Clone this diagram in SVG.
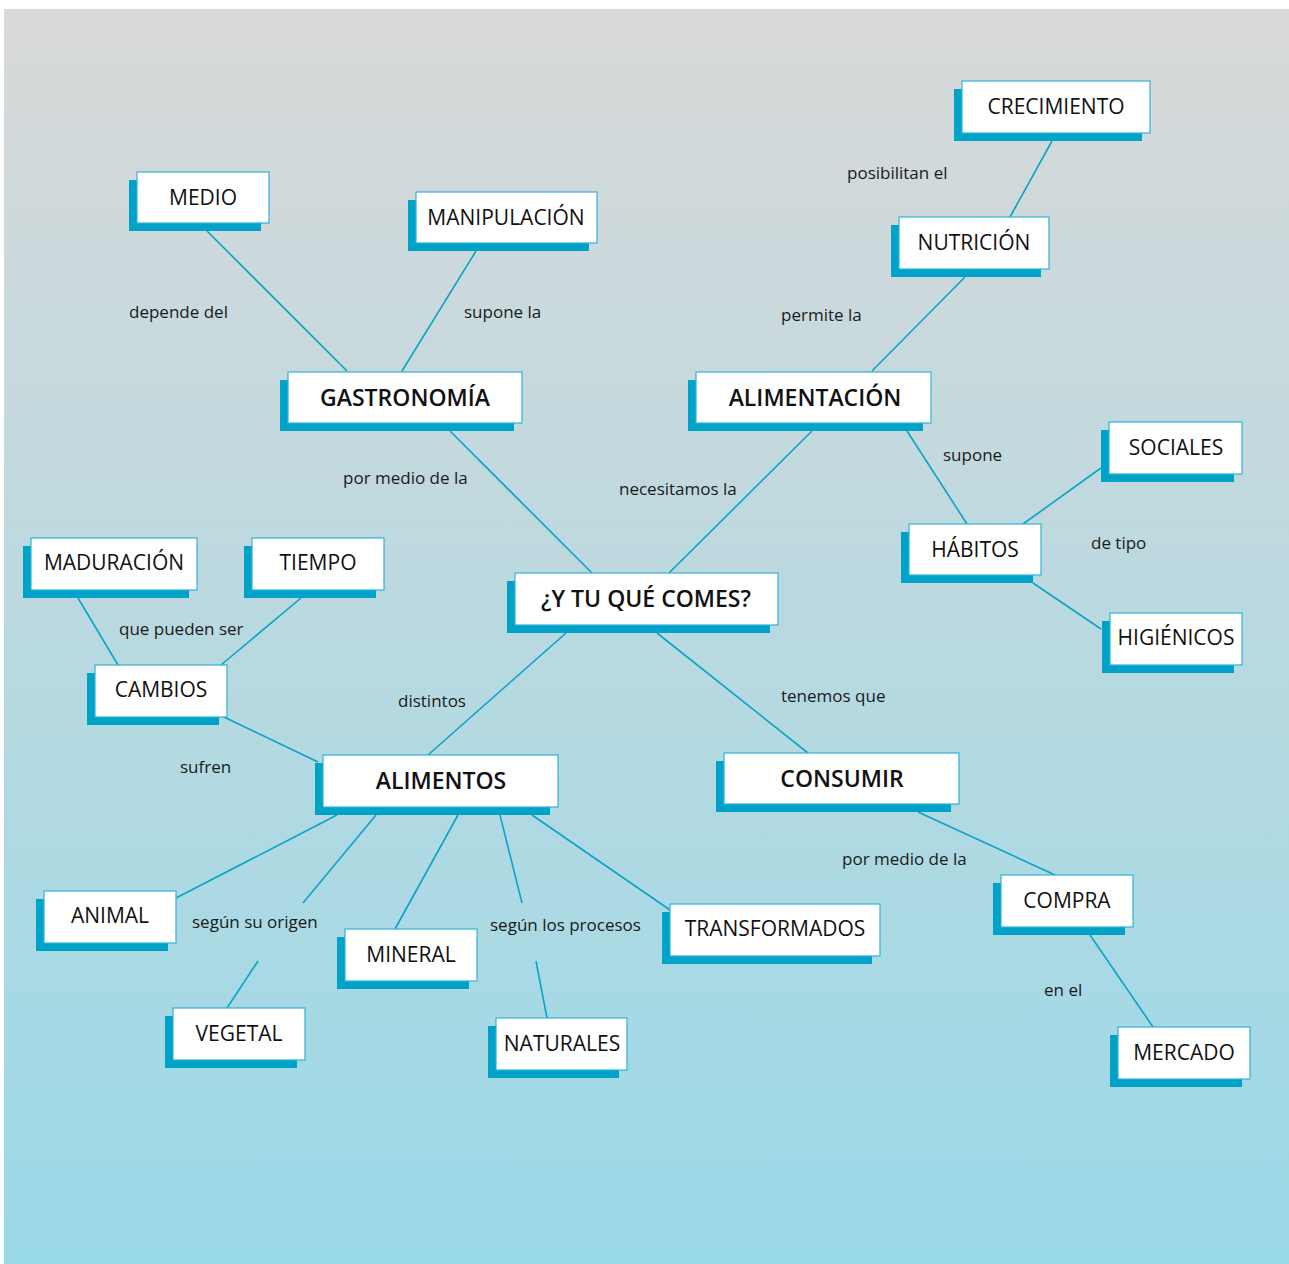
<svg xmlns="http://www.w3.org/2000/svg" width="1289" height="1264" viewBox="0 0 1289 1264">
  <defs>
    <linearGradient id="bg" x1="0" y1="0" x2="0" y2="1">
      <stop offset="0" stop-color="#d9d9d9"/>
      <stop offset="0.5" stop-color="#b9d9e0"/>
      <stop offset="1" stop-color="#9ad9e8"/>
    </linearGradient>
    <style>
      .shadow { fill: #00a2c8; }
      .box { fill: #ffffff; stroke: #2fb3d6; stroke-width: 1.2; }
      .t { font-family: "Open Sans", "Noto Sans", "Liberation Sans", sans-serif; font-size: 21px; fill: #111; text-anchor: middle; dominant-baseline: central; }
      .tb { font-family: "Open Sans", "Noto Sans", "Liberation Sans", sans-serif; font-size: 23px; font-weight: 600; fill: #111; text-anchor: middle; dominant-baseline: central; }
      .lbl { font-family: "Open Sans", "Noto Sans", "Liberation Sans", sans-serif; font-size: 17px; fill: #1a1a1a; }
      .edge { stroke: #0aa3c8; stroke-width: 1.6; fill: none; }
    </style>
  </defs>

  <rect x="4" y="9" width="1285" height="1255" fill="url(#bg)"/>

  <!-- connectors -->
  <g id="connectors">
    <line class="edge" x1="207" y1="231" x2="347" y2="371"/>
    <line class="edge" x1="476" y1="251" x2="402" y2="371"/>
    <line class="edge" x1="450" y1="431" x2="592" y2="573"/>
    <line class="edge" x1="812" y1="431" x2="669" y2="573"/>
    <line class="edge" x1="965" y1="277" x2="872" y2="371"/>
    <line class="edge" x1="1052" y1="141" x2="1010" y2="217"/>
    <line class="edge" x1="907" y1="431" x2="967" y2="524"/>
    <line class="edge" x1="1023" y1="524" x2="1101" y2="468"/>
    <line class="edge" x1="1033" y1="583" x2="1101" y2="629"/>
    <line class="edge" x1="566" y1="633" x2="428" y2="755"/>
    <line class="edge" x1="657" y1="633" x2="808" y2="753"/>
    <line class="edge" x1="78" y1="598" x2="118" y2="665"/>
    <line class="edge" x1="301" y1="598" x2="221" y2="665"/>
    <line class="edge" x1="224" y1="717" x2="318" y2="762"/>
    <line class="edge" x1="337" y1="815" x2="176" y2="898"/>
    <line class="edge" x1="376" y1="815" x2="303" y2="903"/>
    <line class="edge" x1="258" y1="961" x2="227" y2="1008"/>
    <line class="edge" x1="458" y1="815" x2="395" y2="929"/>
    <line class="edge" x1="500" y1="815" x2="522" y2="903"/>
    <line class="edge" x1="536" y1="961" x2="547" y2="1018"/>
    <line class="edge" x1="532" y1="815" x2="670" y2="910"/>
    <line class="edge" x1="918" y1="812" x2="1055" y2="875"/>
    <line class="edge" x1="1090" y1="935" x2="1153" y2="1027"/>
  </g>

  <!-- connector labels -->
  <g id="labels">
    <text class="lbl" x="129" y="318">depende del</text>
    <text class="lbl" x="464" y="318">supone la</text>
    <text class="lbl" x="847" y="179">posibilitan el</text>
    <text class="lbl" x="781" y="321">permite la</text>
    <text class="lbl" x="343" y="484">por medio de la</text>
    <text class="lbl" x="619" y="495">necesitamos la</text>
    <text class="lbl" x="943" y="461">supone</text>
    <text class="lbl" x="1091" y="549">de tipo</text>
    <text class="lbl" x="119" y="635">que pueden ser</text>
    <text class="lbl" x="398" y="707">distintos</text>
    <text class="lbl" x="781" y="702">tenemos que</text>
    <text class="lbl" x="180" y="773">sufren</text>
    <text class="lbl" x="192" y="928">según su origen</text>
    <text class="lbl" x="490" y="931">según los procesos</text>
    <text class="lbl" x="842" y="865">por medio de la</text>
    <text class="lbl" x="1044" y="996">en el</text>
  </g>

  <!-- nodes: shadow offset (-8,+8) behind a white box -->
  <g id="n-medio">
    <rect class="shadow" x="129" y="180" width="132" height="51"/>
    <rect class="box" x="137" y="172" width="132" height="51"/>
    <text class="t" x="203" y="197">MEDIO</text>
  </g>
  <g id="n-manipulacion">
    <rect class="shadow" x="408" y="200" width="181" height="51"/>
    <rect class="box" x="416" y="192" width="181" height="51"/>
    <text class="t" x="506" y="217">MANIPULACIÓN</text>
  </g>
  <g id="n-gastronomia">
    <rect class="shadow" x="280" y="380" width="234" height="51"/>
    <rect class="box" x="288" y="372" width="234" height="51"/>
    <text class="tb" x="405" y="397">GASTRONOMÍA</text>
  </g>
  <g id="n-crecimiento">
    <rect class="shadow" x="954" y="89" width="188" height="52"/>
    <rect class="box" x="962" y="81" width="188" height="52"/>
    <text class="t" x="1056" y="106">CRECIMIENTO</text>
  </g>
  <g id="n-nutricion">
    <rect class="shadow" x="891" y="225" width="150" height="52"/>
    <rect class="box" x="899" y="217" width="150" height="52"/>
    <text class="t" x="974" y="242">NUTRICIÓN</text>
  </g>
  <g id="n-alimentacion">
    <rect class="shadow" x="688" y="380" width="235" height="51"/>
    <rect class="box" x="696" y="372" width="235" height="51"/>
    <text class="tb" x="815" y="397">ALIMENTACIÓN</text>
  </g>
  <g id="n-habitos">
    <rect class="shadow" x="901" y="532" width="132" height="51"/>
    <rect class="box" x="909" y="524" width="132" height="51"/>
    <text class="t" x="975" y="549">HÁBITOS</text>
  </g>
  <g id="n-sociales">
    <rect class="shadow" x="1101" y="430" width="133" height="52"/>
    <rect class="box" x="1109" y="422" width="133" height="52"/>
    <text class="t" x="1176" y="447">SOCIALES</text>
  </g>
  <g id="n-higienicos">
    <rect class="shadow" x="1102" y="621" width="132" height="52"/>
    <rect class="box" x="1110" y="613" width="132" height="52"/>
    <text class="t" x="1176" y="637">HIGIÉNICOS</text>
  </g>
  <g id="n-centro">
    <rect class="shadow" x="507" y="581" width="263" height="52"/>
    <rect class="box" x="515" y="573" width="263" height="52"/>
    <text class="tb" x="646" y="598">¿Y TU QUÉ COMES?</text>
  </g>
  <g id="n-maduracion">
    <rect class="shadow" x="23" y="546" width="166" height="52"/>
    <rect class="box" x="31" y="538" width="166" height="52"/>
    <text class="t" x="114" y="562">MADURACIÓN</text>
  </g>
  <g id="n-tiempo">
    <rect class="shadow" x="244" y="546" width="132" height="52"/>
    <rect class="box" x="252" y="538" width="132" height="52"/>
    <text class="t" x="318" y="562">TIEMPO</text>
  </g>
  <g id="n-cambios">
    <rect class="shadow" x="87" y="673" width="132" height="52"/>
    <rect class="box" x="95" y="665" width="132" height="52"/>
    <text class="t" x="161" y="689">CAMBIOS</text>
  </g>
  <g id="n-alimentos">
    <rect class="shadow" x="315" y="763" width="235" height="52"/>
    <rect class="box" x="323" y="755" width="235" height="52"/>
    <text class="tb" x="441" y="780">ALIMENTOS</text>
  </g>
  <g id="n-consumir">
    <rect class="shadow" x="716" y="761" width="235" height="51"/>
    <rect class="box" x="724" y="753" width="235" height="51"/>
    <text class="tb" x="842" y="778">CONSUMIR</text>
  </g>
  <g id="n-animal">
    <rect class="shadow" x="36" y="899" width="132" height="52"/>
    <rect class="box" x="44" y="891" width="132" height="52"/>
    <text class="t" x="110" y="915">ANIMAL</text>
  </g>
  <g id="n-vegetal">
    <rect class="shadow" x="165" y="1016" width="132" height="52"/>
    <rect class="box" x="173" y="1008" width="132" height="52"/>
    <text class="t" x="239" y="1033">VEGETAL</text>
  </g>
  <g id="n-mineral">
    <rect class="shadow" x="337" y="937" width="132" height="52"/>
    <rect class="box" x="345" y="929" width="132" height="52"/>
    <text class="t" x="411" y="954">MINERAL</text>
  </g>
  <g id="n-naturales">
    <rect class="shadow" x="488" y="1026" width="131" height="52"/>
    <rect class="box" x="496" y="1018" width="131" height="52"/>
    <text class="t" x="562" y="1043">NATURALES</text>
  </g>
  <g id="n-transformados">
    <rect class="shadow" x="662" y="912" width="210" height="52"/>
    <rect class="box" x="670" y="904" width="210" height="52"/>
    <text class="t" x="775" y="928">TRANSFORMADOS</text>
  </g>
  <g id="n-compra">
    <rect class="shadow" x="993" y="883" width="132" height="52"/>
    <rect class="box" x="1001" y="875" width="132" height="52"/>
    <text class="t" x="1067" y="900">COMPRA</text>
  </g>
  <g id="n-mercado">
    <rect class="shadow" x="1110" y="1035" width="132" height="52"/>
    <rect class="box" x="1118" y="1027" width="132" height="52"/>
    <text class="t" x="1184" y="1052">MERCADO</text>
  </g>
</svg>
